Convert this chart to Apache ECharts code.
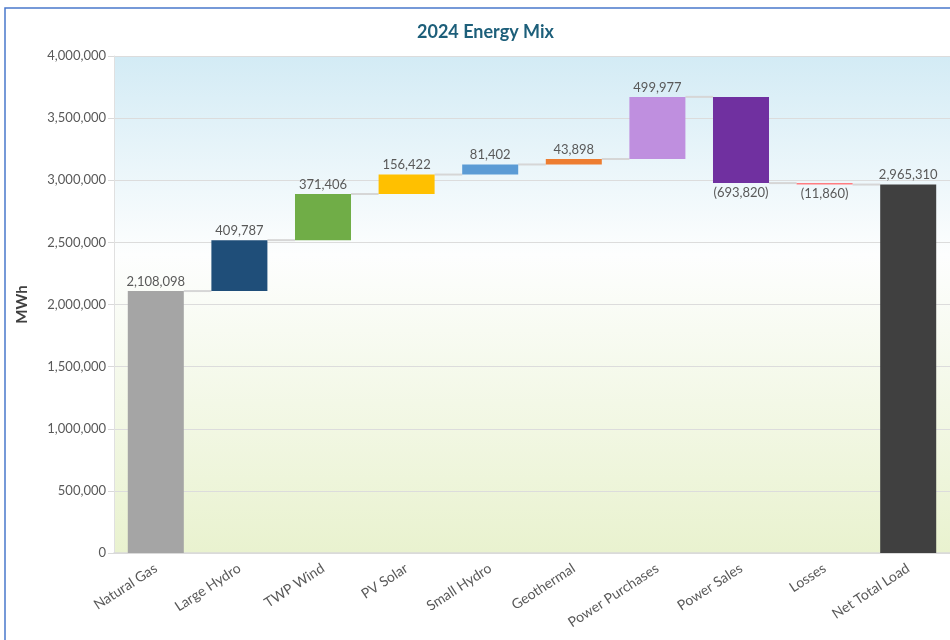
<!DOCTYPE html>
<html>
<head>
<meta charset="utf-8">
<script src="https://cdn.jsdelivr.net/npm/echarts@6/dist/echarts.min.js"></script>
<style>
  html, body { margin: 0; padding: 0; background: #fff; }
  #main { width: 950px; height: 640px; }
</style>
</head>
<body>
<div id="main"></div>
<script>
const categories = ['Natural Gas', 'Large Hydro', 'TWP Wind', 'PV Solar', 'Small Hydro',
  'Geothermal', 'Power Purchases', 'Power Sales', 'Losses', 'Net Total Load']
const values = [2108098, 409787, 371406, 156422, 81402, 43898, 499977, -693820, -11860, 2965310]
const colors = ['#a5a5a5', '#1f4e79', '#70ad47', '#ffc000', '#5b9bd5',
  '#ed7d31', '#bf8fdf', '#7030a0', '#ff7c80', '#404040']
const yTicks = [0, 4000000, 500000] // min, max, interval

// waterfall: invisible base + visible delta
let running = 0
const baseData = []
const barData = []
const connectors = []
values.forEach((v, i) => {
  if (i === 0 || i === values.length - 1) {
    baseData.push(0)
    barData.push(Math.abs(v))
    running = v
  } else if (v >= 0) {
    baseData.push(running)
    barData.push(v)
    running += v
  } else {
    running += v
    baseData.push(running)
    barData.push(-v)
  }
  if (i < values.length - 1) connectors.push([i, running])
})

const fmt = (n) => n.toLocaleString('en-US')
const font = 'Lato, "Open Sans", sans-serif'

let chart = echarts.init(document.getElementById('main'))
chart.setOption({
  animation: false,
  backgroundColor: '#fff',
  title: {
    text: '2024 Energy Mix',
    left: 412,
    top: 18,
    textStyle: { fontSize: 18, fontWeight: 'bold', color: '#1d5f7a', fontFamily: font }
  },
  graphic: [{
    type: 'rect',
    shape: { x: 5, y: 8, width: 960, height: 660 },
    style: { fill: 'none', stroke: '#4a78cc', lineWidth: 1.5 },
    z: 100
  }],
  grid: {
    left: 114,
    top: 56,
    width: 840,
    bottom: 87,
    show: true,
    borderWidth: 0,
    backgroundColor: new echarts.graphic.LinearGradient(0, 0, 0, 1, [
      { offset: 0, color: '#d3ebf5' },
      { offset: 0.4, color: '#fdfefe' },
      { offset: 1, color: '#e9f2cf' }
    ])
  },
  xAxis: {
    type: 'category',
    data: categories,
    axisLine: { lineStyle: { color: '#d9d9d9', width: 1.5 } },
    axisTick: { show: false },
    axisLabel: { rotate: 33, fontSize: 14, color: '#595959', fontFamily: font, margin: 14 }
  },
  yAxis: {
    type: 'value',
    min: yTicks[0],
    max: yTicks[1],
    interval: yTicks[2],
    name: 'MWh',
    nameLocation: 'middle',
    nameGap: 84,
    nameTextStyle: { fontSize: 15, fontWeight: 'bold', color: '#404040', fontFamily: font },
    axisLine: { show: true, lineStyle: { color: '#e0e0e0' } },
    axisTick: { show: true, length: 6, lineStyle: { color: '#d9d9d9' } },
    axisLabel: { formatter: (v) => fmt(v), fontSize: 13, color: '#595959', fontFamily: font, margin: 8 },
    splitLine: { lineStyle: { color: '#dcdcdc', width: 1.2 } }
  },
  series: [
    {
      type: 'bar',
      stack: 'wf',
      data: baseData,
      itemStyle: { color: 'transparent' },
      barCategoryGap: '33%',
      silent: true
    },
    {
      type: 'bar',
      stack: 'wf',
      data: barData.map((v, i) => ({
        value: v,
        itemStyle: { color: colors[i] },
        label: {
          position: values[i] < 0 ? 'bottom' : 'top',
          formatter: values[i] < 0 ? '(' + fmt(-values[i]) + ')' : fmt(values[i])
        }
      })),
      label: { show: true, fontSize: 13, color: '#595959', fontFamily: font, distance: 3 }
    },
    {
      type: 'custom',
      data: connectors,
      z: 1,
      renderItem: (params, api) => {
        const idx = api.value(0)
        const y = api.value(1)
        const p1 = api.coord([idx, y])
        const p2 = api.coord([idx + 1, y])
        const half = api.size([1, 0])[0] * 0.335
        return {
          type: 'line',
          shape: { x1: p1[0] + half, y1: p1[1], x2: p2[0] - half, y2: p2[1] },
          style: { stroke: '#d6d6d6', lineWidth: 2 }
        }
      }
    }
  ]
})
</script>
</body>
</html>
